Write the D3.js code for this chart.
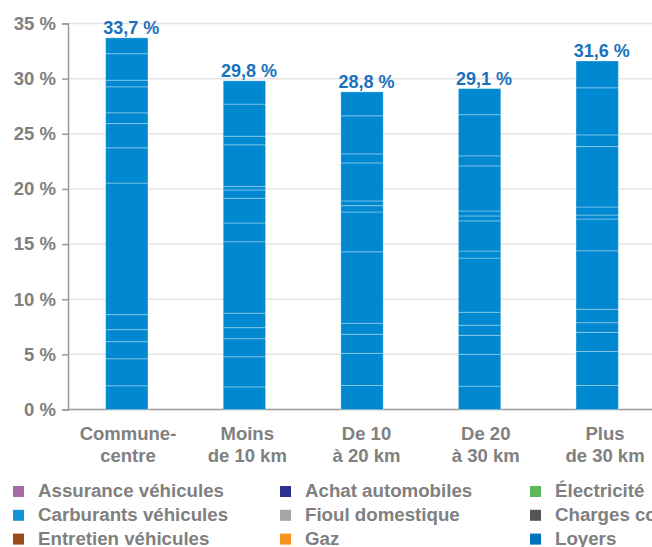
<!DOCTYPE html>
<html>
  <head>
    <meta charset="utf-8">
    <title>Part du budget</title>
    <script src="https://d3js.org/d3.v7.min.js"></script>
    <style>
      body { margin: 0; background: #fff; }
      svg { display: block; font-family: "Liberation Sans", Arial, sans-serif; font-weight: bold; }
    </style>
  </head>
  <body>
    <div id="chart"></div>
    <script>
      // zones (x categories), two lines each
      var zones = ["Commune-centre", "Moins de 10 km", "De 10 à 20 km", "De 20 à 30 km", "Plus de 30 km"];
      var zoneLines = [["Commune-", "centre"], ["Moins", "de 10 km"], ["De 10", "à 20 km"], ["De 20", "à 30 km"], ["Plus", "de 30 km"]];
      var totals = [33.7, 29.8, 28.8, 29.1, 31.6];
      var totalLabels = ["33,7 %", "29,8 %", "28,8 %", "29,1 %", "31,6 %"];
      // stacked parts of each bar, bottom to top
      var parts0 = [2.15, 2.45, 1.55, 1.09, 1.36, 11.93, 3.2, 2.2, 0.97, 2.36, 0.6, 2.4, 1.44];
      var parts1 = [2.05, 2.73, 1.64, 1.0, 1.31, 6.48, 1.7, 2.24, 0.76, 0.3, 3.79, 0.78, 2.91, 2.11];
      var parts2 = [2.18, 2.91, 1.73, 1.0, 6.48, 3.61, 0.57, 0.43, 3.45, 0.82, 3.45, 2.17];
      var parts3 = [2.12, 2.88, 1.73, 0.91, 1.18, 4.91, 0.64, 2.73, 0.45, 0.45, 4.09, 0.91, 3.73, 2.37];
      var parts4 = [2.18, 3.09, 1.73, 0.87, 1.22, 5.3, 2.88, 0.36, 0.73, 5.48, 1.06, 4.27, 2.43];
      var parts = [parts0, parts1, parts2, parts3, parts4];
      var yTicks = [0, 5, 10, 15, 20, 25, 30, 35];
      // legend (visible part)
      var legendNames = ["Assurance véhicules", "Achat automobiles", "Électricité",
                         "Carburants véhicules", "Fioul domestique", "Charges courantes",
                         "Entretien véhicules", "Gaz", "Loyers"];
      var legendColors = ["#a66aa8", "#2e3192", "#5cb85c",
                          "#0f95d7", "#a6a6a6", "#555555",
                          "#9b4a1e", "#f7941d", "#0071bc"];

      var width = 652, height = 547;
      var margin = { top: 23.5, left: 68, bottom: 137.5 };
      var barColor = "#0089d0";
      var grey = "#808080";

      var svg = d3.select("#chart").append("svg")
        .attr("width", width)
        .attr("height", height);

      var x = d3.scaleBand()
        .domain(zones)
        .range([margin.left, margin.left + 588])
        .paddingInner(0.64)
        .paddingOuter(0.32);
      // labels sit slightly right of the bars in the original
      var xLabel = d3.scalePoint()
        .domain(zones)
        .range([128, 605]);
      var y = d3.scaleLinear()
        .domain([0, 35])
        .range([height - margin.bottom, margin.top]);

      // gridlines
      svg.append("g")
        .selectAll("line")
        .data(yTicks.slice(1))
        .join("line")
          .attr("x1", margin.left)
          .attr("x2", width)
          .attr("y1", function(d) { return y(d); })
          .attr("y2", function(d) { return y(d); })
          .attr("stroke", "#e4e4e4")
          .attr("stroke-width", 1.5);

      // y axis
      var yAxis = svg.append("g")
        .attr("transform", "translate(" + margin.left + ",0)")
        .call(d3.axisLeft(y).tickValues(yTicks).tickSize(6).tickPadding(6)
          .tickFormat(function(d) { return d + " %"; }));
      yAxis.select(".domain").attr("stroke", "#9a9a9a").attr("stroke-width", 1.5);
      yAxis.selectAll(".tick line").attr("stroke", "#9a9a9a").attr("stroke-width", 1.5);
      yAxis.selectAll("text")
        .attr("fill", grey)
        .style("font-size", "18.5px")
        .style("font-family", "'Liberation Sans', Arial, sans-serif")
        .style("font-weight", "bold");

      // x axis line
      svg.append("line")
        .attr("x1", margin.left - 1)
        .attr("x2", width)
        .attr("y1", y(0))
        .attr("y2", y(0))
        .attr("stroke", "#9a9a9a")
        .attr("stroke-width", 1.5);

      // stacked bars
      zones.forEach(function(z, i) {
        var ends = d3.cumsum(parts[i]);
        var segs = parts[i].map(function(v, j) { return { y0: ends[j] - v, y1: ends[j] }; });
        svg.append("g")
          .selectAll("rect")
          .data(segs)
          .join("rect")
            .attr("x", x(z))
            .attr("width", x.bandwidth())
            .attr("y", function(d) { return y(d.y1); })
            .attr("height", function(d) { return y(d.y0) - y(d.y1); })
            .attr("fill", barColor)
            .attr("stroke", "#ffffff")
            .attr("stroke-opacity", 0.3)
            .attr("stroke-width", 1);
      });

      // value labels
      svg.append("g")
        .selectAll("text")
        .data(zones)
        .join("text")
          .attr("x", function(d) { return x(d) + x.bandwidth() / 2 + 4.5; })
          .attr("y", function(d, i) { return y(totals[i]) - 4; })
          .attr("text-anchor", "middle")
          .attr("fill", "#1a72be")
          .style("font-size", "18px")
          .text(function(d, i) { return totalLabels[i]; });

      // category labels
      var cat = svg.append("g")
        .selectAll("text")
        .data(zones)
        .join("text")
          .attr("text-anchor", "middle")
          .attr("fill", grey)
          .style("font-size", "18.5px");
      cat.selectAll("tspan")
        .data(function(d, i) { return zoneLines[i]; })
        .join("tspan")
          .attr("x", function() { return xLabel(d3.select(this.parentNode).datum()); })
          .attr("y", function(d, k) { return 439.5 + k * 22; })
          .text(function(d) { return d; });

      // legend, 3 per row
      var legend = svg.append("g")
        .selectAll("g")
        .data(legendNames)
        .join("g")
          .attr("transform", function(d, i) {
            var cols = [13, 280, 530];
            return "translate(" + cols[i % 3] + "," + (497 + Math.floor(i / 3) * 23.8) + ")";
          });
      legend.append("rect")
        .attr("x", 0)
        .attr("y", -11)
        .attr("width", 11)
        .attr("height", 11)
        .attr("fill", function(d, i) { return legendColors[i]; });
      legend.append("text")
        .attr("x", 25)
        .attr("fill", grey)
        .style("font-size", "18.7px")
        .text(function(d) { return d; });
    </script>
  </body>
</html>
